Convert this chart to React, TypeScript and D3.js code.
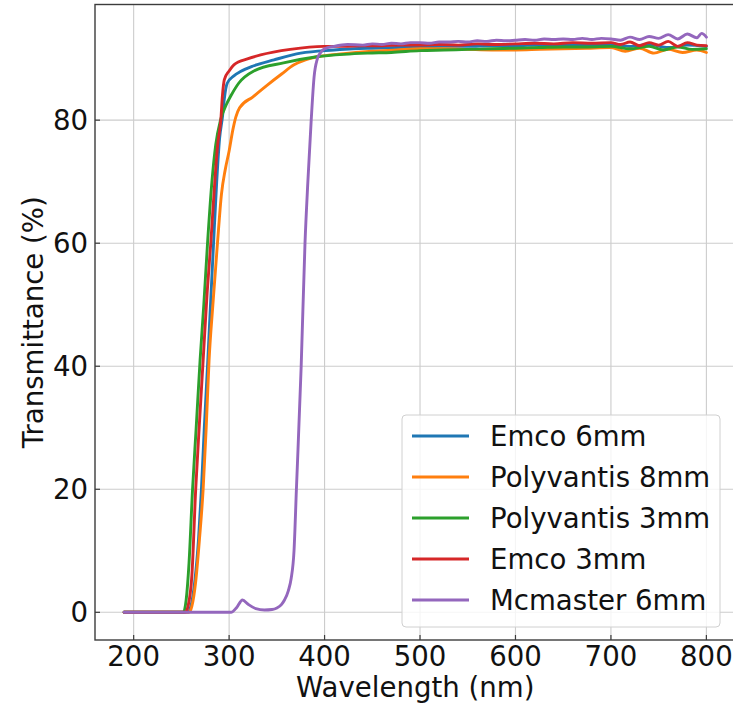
import React from "react";
import * as d3 from "d3";

type Pt = [number, number];

const seriesNames = ["Emco 6mm", "Polyvantis 8mm", "Polyvantis 3mm", "Emco 3mm", "Mcmaster 6mm"];
const seriesColors = ["#1f77b4", "#ff7f0e", "#2ca02c", "#d62728", "#9467bd"];

const emco6: Pt[] = [
  [190, 0], [257, 0], [260, 1], [264, 5], [268, 12], [271, 20], [274, 30], [277.7, 41], [280.5, 50],
  [283.7, 60], [287, 70], [290, 77], [293, 80.5], [295, 83.5], [298, 86], [305, 87.2], [312, 87.9],
  [325, 88.8], [347, 89.8], [375, 90.9], [410, 91.4], [430, 91.6], [450, 91.7], [475, 91.8], [500, 91.9],
  [525, 92.0], [550, 92.0], [575, 92.1], [600, 92.1], [625, 92.2], [650, 92.2], [675, 92.3], [700, 92.3],
  [720, 92.0], [740, 92.3], [760, 91.8], [780, 92.2], [800, 92.0],
];

const poly8: Pt[] = [
  [190, 0], [258, 0], [261, 1], [265, 5], [269, 12], [272.8, 20], [276, 30], [279, 41], [283, 50],
  [287.8, 60], [292, 68], [296, 72], [300, 75], [304, 78.5], [307, 80.5], [311, 82], [325, 83.8],
  [340, 85.7], [355, 87.5], [368, 89], [380, 89.8], [392.5, 90.3], [420, 90.8], [450, 91.2], [475, 91.4],
  [500, 91.6], [525, 91.6], [550, 91.5], [575, 91.4], [600, 91.4], [625, 91.5], [650, 91.6], [675, 91.7],
  [700, 91.8], [715, 91.2], [730, 91.7], [745, 90.9], [760, 91.5], [775, 91.0], [790, 91.4], [800, 91.0],
];

const poly3: Pt[] = [
  [190, 0], [252, 0], [255, 2], [258, 8], [261.7, 20], [265.5, 30], [269.6, 41], [273.5, 50],
  [277.4, 60], [282, 70], [286, 76], [291, 80], [297, 82.5], [302, 84], [310, 86], [326, 88],
  [357, 89.3], [392, 90.3], [420, 90.7], [445, 90.9], [470, 91.0], [500, 91.3], [525, 91.4], [550, 91.5],
  [575, 91.6], [600, 91.7], [625, 91.8], [650, 91.9], [675, 91.9], [700, 92.0], [720, 91.6], [740, 92.0],
  [755, 91.4], [770, 91.9], [785, 91.5], [800, 91.6],
];

const emco3: Pt[] = [
  [190, 0], [254, 0], [257, 1], [261, 6], [265, 20], [269, 31], [272.8, 41], [277, 52], [280.8, 60],
  [285, 70], [288, 76], [291.3, 80], [293, 84], [295, 86.6], [300, 88], [305, 89], [320, 90],
  [333, 90.6], [364, 91.5], [399, 92.0], [420, 92.0], [440, 92.1], [460, 92.1], [480, 92.2], [500, 92.2],
  [520, 92.3], [540, 92.2], [560, 92.4], [580, 92.3], [600, 92.4], [620, 92.5], [640, 92.4], [660, 92.6],
  [680, 92.5], [700, 92.6], [710, 92.3], [720, 92.7], [730, 92.1], [740, 92.6], [750, 92.2], [760, 92.8],
  [770, 92.0], [780, 92.6], [790, 92.2], [800, 92.1],
];

const mcmaster6: Pt[] = [
  [190, 0], [302, 0], [308, 0.8], [314, 2.0], [320, 1.3], [328, 0.6], [337, 0.37], [345, 0.45],
  [350, 0.7], [355, 1.3], [358, 2], [362, 3.5], [365, 5.5], [368, 10], [370.5, 20], [375.5, 40], [379.5, 60],
  [382.5, 70], [386, 80], [389, 87], [392.5, 90], [396, 91], [400, 91.6], [410, 92.0], [424, 92.3],
  [440, 92.2], [450, 92.4], [460, 92.3], [470, 92.5], [480, 92.4], [490, 92.6], [500, 92.6], [510, 92.5],
  [520, 92.7], [530, 92.7], [540, 92.8], [550, 92.7], [560, 92.9], [570, 92.8], [580, 93.0], [590, 92.9],
  [600, 93.0], [610, 93.1], [620, 93.0], [630, 93.2], [640, 93.1], [650, 93.2], [660, 93.1], [670, 93.3],
  [680, 93.1], [690, 93.3], [700, 93.2], [710, 93.0], [720, 93.5], [730, 93.1], [740, 93.6], [750, 93.3],
  [760, 93.9], [770, 93.2], [780, 94.0], [790, 93.4], [795, 94.1], [800, 93.5],
];

const seriesData: Pt[][] = [emco6, poly8, poly3, emco3, mcmaster6];

const xTicks = [200, 300, 400, 500, 600, 700, 800];
const yTicks = [0, 20, 40, 60, 80];

const W = 733;
const H = 704;
const left = 95;
const right = 735.5;
const top = 4.5;
const bottom = 640;
const FONT = "DejaVu Sans, sans-serif";
const FS = 27.6;

export default function App() {
  const x = d3.scaleLinear().domain([159.5, 830.5]).range([left, right]);
  const y = d3.scaleLinear().domain([-4.5, 98.8]).range([bottom, top]);
  const line = d3
    .line<Pt>()
    .x((d) => x(d[0]))
    .y((d) => y(d[1]))
    .curve(d3.curveMonotoneX);

  const legX = 402;
  const legY = 415;
  const legW = 318;
  const legH = 212;
  const rowY0 = 436;
  const rowDy = 41;

  return (
    <svg
      width={W}
      height={H}
      style={{ position: "absolute", left: 0, top: 0, background: "#fff" }}
      fontFamily={FONT}
    >
      <rect x={0} y={0} width={W} height={H} fill="#fff" />
      <defs>
        <clipPath id="plotclip">
          <rect x={left} y={top} width={right - left} height={bottom - top} />
        </clipPath>
      </defs>
      {xTicks.map((t) => (
        <line key={"gx" + t} x1={x(t)} x2={x(t)} y1={top} y2={bottom} stroke="#cccccc" strokeWidth={1.1} />
      ))}
      {yTicks.map((t) => (
        <line key={"gy" + t} x1={left} x2={right} y1={y(t)} y2={y(t)} stroke="#cccccc" strokeWidth={1.1} />
      ))}
      <g clipPath="url(#plotclip)">
        {seriesData.map((s, i) => (
          <path
            key={seriesNames[i]}
            d={line(s) || ""}
            fill="none"
            stroke={seriesColors[i]}
            strokeWidth={2.9}
            strokeLinejoin="round"
            strokeLinecap="round"
          />
        ))}
      </g>
      <rect x={left} y={top} width={right - left} height={bottom - top} fill="none" stroke="#3c3c3c" strokeWidth={1.4} />
      {xTicks.map((t) => (
        <g key={"tx" + t}>
          <line x1={x(t)} x2={x(t)} y1={bottom} y2={bottom - 5} stroke="#3c3c3c" strokeWidth={1.2} />
          <text x={x(t)} y={666} textAnchor="middle" fontSize={FS} fill="#111">
            {t}
          </text>
        </g>
      ))}
      {yTicks.map((t) => (
        <g key={"ty" + t}>
          <line x1={left} x2={left + 5} y1={y(t)} y2={y(t)} stroke="#3c3c3c" strokeWidth={1.2} />
          <text x={88} y={y(t) + 10} textAnchor="end" fontSize={FS} fill="#111">
            {t}
          </text>
        </g>
      ))}
      <text x={(left + right) / 2} y={697} textAnchor="middle" fontSize={FS} fill="#111">
        Wavelength (nm)
      </text>
      <text
        transform={`translate(43, ${(top + bottom) / 2}) rotate(-90)`}
        textAnchor="middle"
        fontSize={FS}
        fill="#111"
      >
        Transmittance (%)
      </text>
      <rect
        x={legX}
        y={legY}
        width={legW}
        height={legH}
        rx={4}
        ry={4}
        fill="#ffffff"
        fillOpacity={0.8}
        stroke="#d0d0d0"
        strokeWidth={1}
      />
      {seriesNames.map((n, i) => (
        <g key={"leg" + n}>
          <line
            x1={412}
            x2={469}
            y1={rowY0 + i * rowDy}
            y2={rowY0 + i * rowDy}
            stroke={seriesColors[i]}
            strokeWidth={2.9}
          />
          <text x={490} y={rowY0 + i * rowDy + 10} fontSize={FS} fill="#111">
            {n}
          </text>
        </g>
      ))}
    </svg>
  );
}
